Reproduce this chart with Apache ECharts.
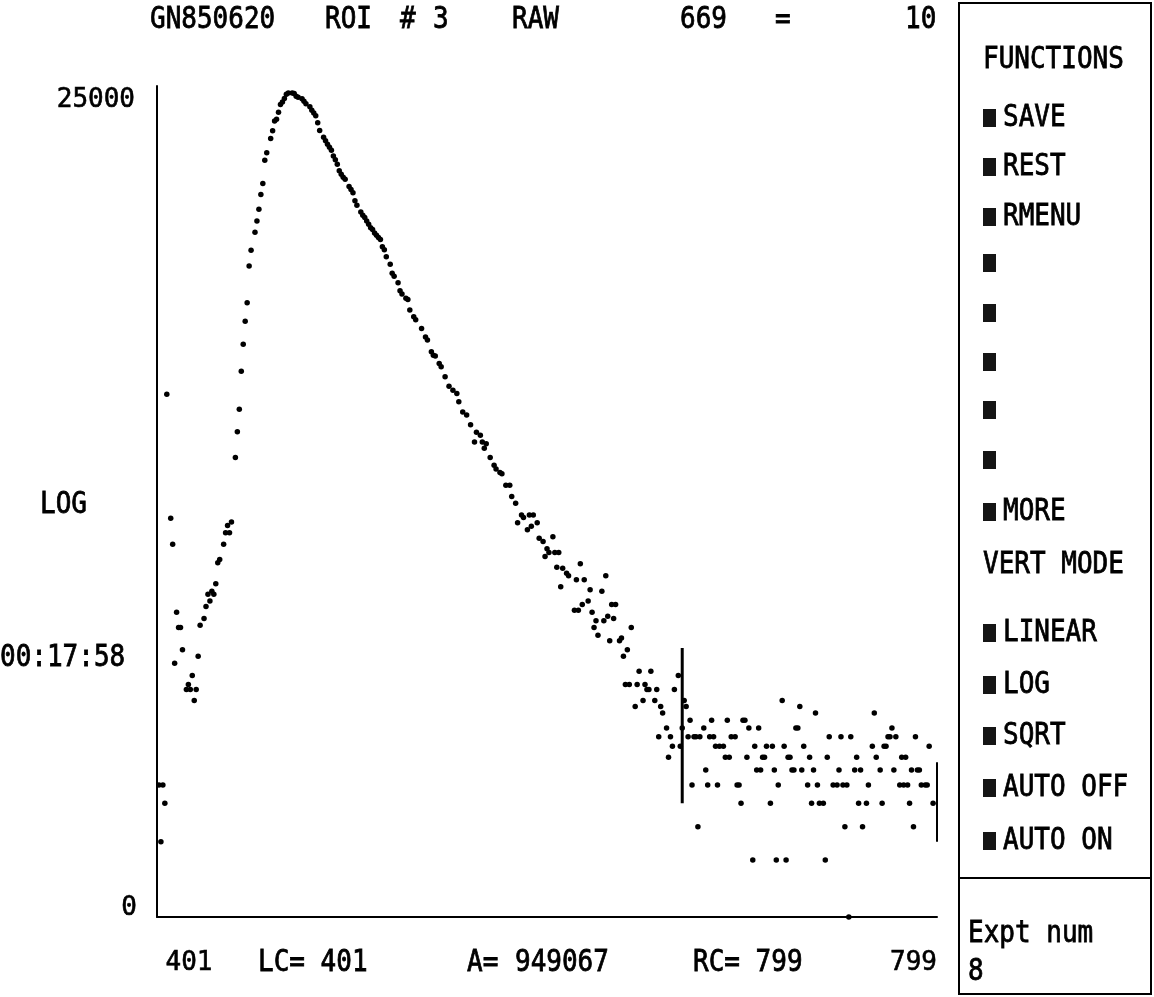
<!DOCTYPE html>
<html>
<head>
<meta charset="utf-8">
<script src="https://cdn.jsdelivr.net/npm/echarts@6/dist/echarts.min.js"></script>
<style>
html,body{margin:0;padding:0;background:#fff;}
#c{width:1154px;height:997px;}
</style>
</head>
<body>
<div id="c"></div>
<script>
// ---------------- DATA ----------------
const channels = [
  402,403,404,405,406,408,409,410,411,412,413,414,416,417,418,419,420,421,422,423,
  425,426,427,428,429,430,431,432,433,435,436,437,438,439,441,442,443,444,445,446,
  447,448,449,451,452,453,454,455,456,457,459,460,461,462,463,464,465,466,467,468,
  470,471,472,473,475,476,477,479,480,481,482,483,484,486,487,488,489,490,491,492,
  493,494,495,496,497,499,500,501,502,503,505,506,507,508,509,510,511,512,513,514,
  515,516,517,518,520,521,522,524,525,526,528,529,530,532,533,536,538,539,541,542,
  543,545,546,548,550,552,554,555,557,559,561,563,564,566,567,568,569,571,573,574,
  576,577,579,581,582,584,585,587,588,590,591,592,593,595,596,598,599,600,601,603,
  604,605,606,607,608,610,611,614,615,616,617,618,619,621,622,623,624,625,626,628,
  629,630,631,632,633,634,635,637,638,639,640,641,642,643,645,646,647,649,650,651,
  652,653,655,656,657,658,659,661,662,663,664,665,667,668,669,670,671,672,673,674,
  675,676,677,678,680,681,682,683,684,685,686,687,688,690,691,692,693,694,696,697,
  698,699,700,701,702,703,705,706,707,708,709,710,711,712,714,715,716,717,718,720,
  721,722,723,724,725,726,727,728,729,730,731,733,734,735,736,737,738,739,741,742,
  743,744,746,748,749,750,751,752,753,754,755,757,758,759,760,761,763,764,766,767,
  768,770,771,772,773,774,775,776,777,778,780,781,782,783,784,785,786,787,788,789,
  790,791,793,794,795,797
];
const counts = [
  5,2.5,5,4,585,129,94,22,41,34,34,26,16,17,16,19,14,16,24,35,
  38,44,51,47,53,51,58,75,78,94,108,118,108,123,270,370,487,774,1076,1424,
  1780,2792,3381,4210,4832,5572,6665,7620,10120,11070,13190,14470,16340,16680,18170,19950,20600,21470,22620,22980,
  22980,22810,22070,21780,21420,20780,20120,19440,18610,18000,17400,15990,14540,13380,12830,12300,11860,11430,10640,10180,
  9640,8910,8540,8230,8030,7340,7080,6800,6170,5850,5390,5180,5040,4830,4640,4440,4350,4170,4060,3950,
  3850,3520,3400,3120,2850,2550,2460,2270,2060,1980,1880,1855,1630,1500,1450,1300,1175,1130,980,941,
  930,850,816,722,645,614,590,533,471,453,403,326,368,355,326,303,320,270,246,235,
  225,222,193,193,168,155,122,134,130,112,134,117,134,122,101,97,81,89,85,103,
  85,71,85,56,70,66,64,42,61,42,74,45,61,47,54,41,34,37,31,53,
  37,64,39,29,45,38,45,29,30,24,17,26,17,34,13,17,20,14,17,16,
  16,20,14,16,9,13,12,10,7,9,8,16,19,8,10,14,13,9,11,5,
  9,9,3,9,10,6,5,9,11,9,8,5,8,8,7,11,7,9,9,5,
  5,4,11,11,7,10,2,8,6,10,6,7,7,8,4,8,6,2,5,14,
  8,2,7,7,6,6,10,10,13,6,8,5,7,4,6,12,5,4,4,2,
  7,9,5,5,6,9,5,3,5,1,9,6,7,4,6,3,4,5,8,12,
  7,6,4,8,8,9,9,10,6,9,5,7,5,7,5,4,6,3,9,6,
  6,5,5,5,8,4
];
const xRange = [401, 799];
const yRange = [1, 25000];
const xTickValues = [401, 799];
const xTickText = ['401', '799'];
const yTickValues = [1, 25000];
const yTickText = ['0', '25000'];
const cursorChannel = 669;
const cursorSpan = [4, 26.5];
const rcChannel = 799;
const rcSpan = [2.5, 6.6];
const headerTexts = ['GN850620', 'ROI', '#', '3', 'RAW', '669', '=', '10'];
const footerTexts = ['LC= 401', 'A=', '949067', 'RC= 799'];
const sideTexts = ['LOG', '00:17:58'];
const panelTitle = 'FUNCTIONS';
const functionItems = ['SAVE', 'REST', 'RMENU', '', '', '', '', '', 'MORE'];
const modeTitle = 'VERT MODE';
const modeItems = ['LINEAR', 'LOG', 'SQRT', 'AUTO OFF', 'AUTO ON'];
const exptTexts = ['Expt num', '8'];

// ---------------- LAYOUT / STYLE ----------------
const INK = '#000';
const FAM = '"DejaVu Sans Mono", monospace';
const FS = 26;
const FONT = FS + 'px ' + FAM;

function txt(s, x, y, align) {
  return {
    type: 'text', x: x, y: y, silent: true, scaleY: 1.18,
    style: { text: s, fill: INK, font: FONT, stroke: INK, lineWidth: 0.7,
      textAlign: align || 'left', align: align || 'left',
      textVerticalAlign: 'middle', verticalAlign: 'middle' }
  };
}

const graphics = [];
const headerX = [150, 325, 400, 433, 512, 680, 775, 905];
headerTexts.forEach((s, i) => graphics.push(txt(s, headerX[i], 20)));
const footerX = [258, 467, 515, 693];
footerTexts.forEach((s, i) => graphics.push(txt(s, footerX[i], 963)));
graphics.push(txt(sideTexts[0], 40, 505));
graphics.push(txt(sideTexts[1], 0, 658));

// right panel
graphics.push({ type: 'rect', silent: true, shape: { x: 959, y: 3, width: 192, height: 991 },
  style: { fill: 'none', stroke: INK, lineWidth: 2 } });
graphics.push({ type: 'line', silent: true, shape: { x1: 959, y1: 878, x2: 1151, y2: 878 },
  style: { stroke: INK, lineWidth: 2 } });
graphics.push(txt(panelTitle, 983, 60));
const fnY = [118, 167, 217, 263, 313, 362, 410, 460, 512];
functionItems.forEach((s, i) => {
  graphics.push({ type: 'rect', silent: true, shape: { x: 983, y: fnY[i] - 9, width: 13, height: 18 },
    style: { fill: '#151515' } });
  if (s) graphics.push(txt(s, 1003, fnY[i]));
});
graphics.push(txt(modeTitle, 983, 565));
const modeY = [633, 685, 736, 788, 841];
modeItems.forEach((s, i) => {
  graphics.push({ type: 'rect', silent: true, shape: { x: 983, y: modeY[i] - 9, width: 13, height: 18 },
    style: { fill: '#151515' } });
  graphics.push(txt(s, 1003, modeY[i]));
});
graphics.push(txt(exptTexts[0], 968, 934));
graphics.push(txt(exptTexts[1], 968, 972));

function near(a, b) { return Math.abs(Math.log10(a) - Math.log10(b)) < 1e-4; }

const labelBase = { fontFamily: FAM, fontSize: FS, color: INK, textBorderColor: INK, textBorderWidth: 0.6 };

const option = {
  animation: false,
  backgroundColor: '#fff',
  grid: { left: 157, right: 217, top: 86, bottom: 80, containLabel: false, outerBoundsMode: 'none' },
  xAxis: {
    type: 'value', min: xRange[0], max: xRange[1],
    axisLine: { show: true, onZero: false, lineStyle: { color: INK, width: 2 } },
    axisTick: { show: false }, splitLine: { show: false },
    axisLabel: Object.assign({
      show: true, margin: 33, showMinLabel: true, showMaxLabel: true,
      formatter: function (v) {
        if (Math.abs(v - xTickValues[0]) < 1e-6) return '{l|' + xTickText[0] + '}';
        if (Math.abs(v - xTickValues[1]) < 1e-6) return '{r|' + xTickText[1] + '}';
        return '';
      },
      rich: {
        l: Object.assign({ padding: [0, 0, 0, 64] }, labelBase),
        r: Object.assign({ padding: [0, 47, 0, 0] }, labelBase)
      }
    }, labelBase)
  },
  yAxis: {
    type: 'log', logBase: 10, min: yRange[0], max: yRange[1],
    axisLine: { show: true, onZero: false, lineStyle: { color: INK, width: 2 } },
    axisTick: { show: false }, splitLine: { show: false }, minorTick: { show: false },
    axisLabel: Object.assign({
      show: true, margin: 20, showMinLabel: true, showMaxLabel: true,
      formatter: function (v) {
        if (near(v, yTickValues[0])) return '{b|' + yTickText[0] + '}';
        if (near(v, yTickValues[1])) return '{t|' + yTickText[1] + '}';
        return '';
      },
      rich: {
        b: Object.assign({ padding: [0, 0, 18, 0] }, labelBase),
        t: Object.assign({ padding: [28, 2, 0, 0] }, labelBase)
      }
    }, labelBase)
  },
  series: [
    {
      type: 'scatter', silent: true,
      data: channels.map((c, i) => [c, counts[i]]),
      symbol: 'circle', symbolSize: 5.5,
      itemStyle: { color: INK, opacity: 1 }
    },
    {
      type: 'line', silent: true, showSymbol: false, symbol: 'none',
      data: [[cursorChannel, cursorSpan[0]], [cursorChannel, cursorSpan[1]]],
      lineStyle: { color: INK, width: 3 }, z: 5
    },
    {
      type: 'line', silent: true, showSymbol: false, symbol: 'none',
      data: [[rcChannel, rcSpan[0]], [rcChannel, rcSpan[1]]],
      lineStyle: { color: INK, width: 2 }, z: 5
    }
  ],
  graphic: graphics
};

const chart = echarts.init(document.getElementById('c'), null, { renderer: 'canvas' });
chart.setOption(option);
</script>
</body>
</html>
